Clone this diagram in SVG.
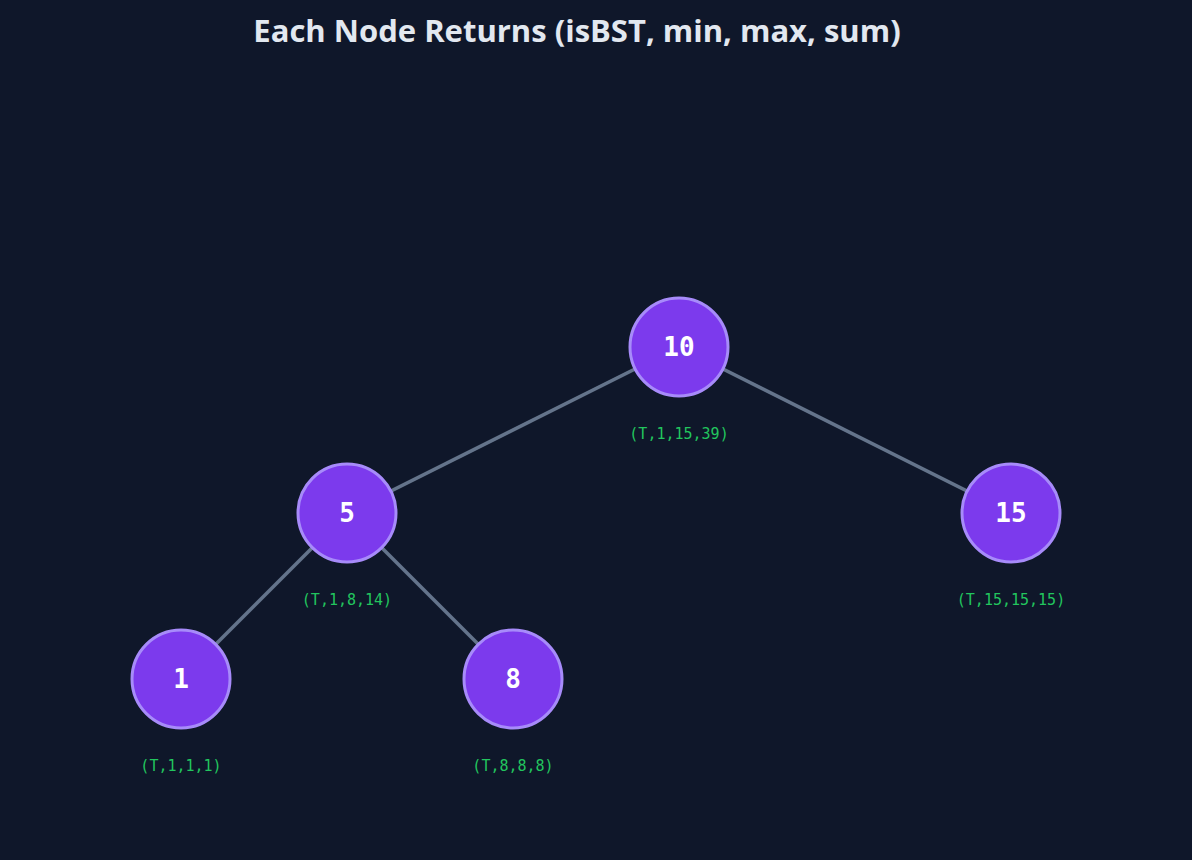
<svg xmlns="http://www.w3.org/2000/svg" width="1192" height="860" viewBox="0 0 1192 860">
<style>
.n{fill:#7c3aed;stroke:#a78bfa;stroke-width:3}
.v{font-family:"DejaVu Sans Mono",monospace;font-weight:bold;font-size:26px;fill:#fff;text-anchor:middle;dominant-baseline:central}
.l{font-family:"DejaVu Sans Mono",monospace;font-size:15px;fill:#22c55e;text-anchor:middle}
.e{stroke:#64748b;stroke-width:3.5}
</style>
<rect width="1192" height="860" fill="#0f172a"/>
<text x="577" y="42" font-family="Open Sans, DejaVu Sans, sans-serif" font-weight="bold" font-size="31" fill="#e2e8f0" text-anchor="middle">Each Node Returns (isBST, min, max, sum)</text>
<g id="edges">
<line class="e" x1="679" y1="347" x2="347" y2="513"/>
<line class="e" x1="679" y1="347" x2="1011" y2="513"/>
<line class="e" x1="347" y1="513" x2="181" y2="679"/>
<line class="e" x1="347" y1="513" x2="513" y2="679"/>
</g>
<g id="n10"><circle class="n" cx="679" cy="347" r="49"/><text class="v" x="679" y="347">10</text><text class="l" x="679" y="439">(T,1,15,39)</text></g>
<g id="n5"><circle class="n" cx="347" cy="513" r="49"/><text class="v" x="347" y="513">5</text><text class="l" x="347" y="605">(T,1,8,14)</text></g>
<g id="n15"><circle class="n" cx="1011" cy="513" r="49"/><text class="v" x="1011" y="513">15</text><text class="l" x="1011" y="605">(T,15,15,15)</text></g>
<g id="n1"><circle class="n" cx="181" cy="679" r="49"/><text class="v" x="181" y="679">1</text><text class="l" x="181" y="771">(T,1,1,1)</text></g>
<g id="n8"><circle class="n" cx="513" cy="679" r="49"/><text class="v" x="513" y="679">8</text><text class="l" x="513" y="771">(T,8,8,8)</text></g>
</svg>
